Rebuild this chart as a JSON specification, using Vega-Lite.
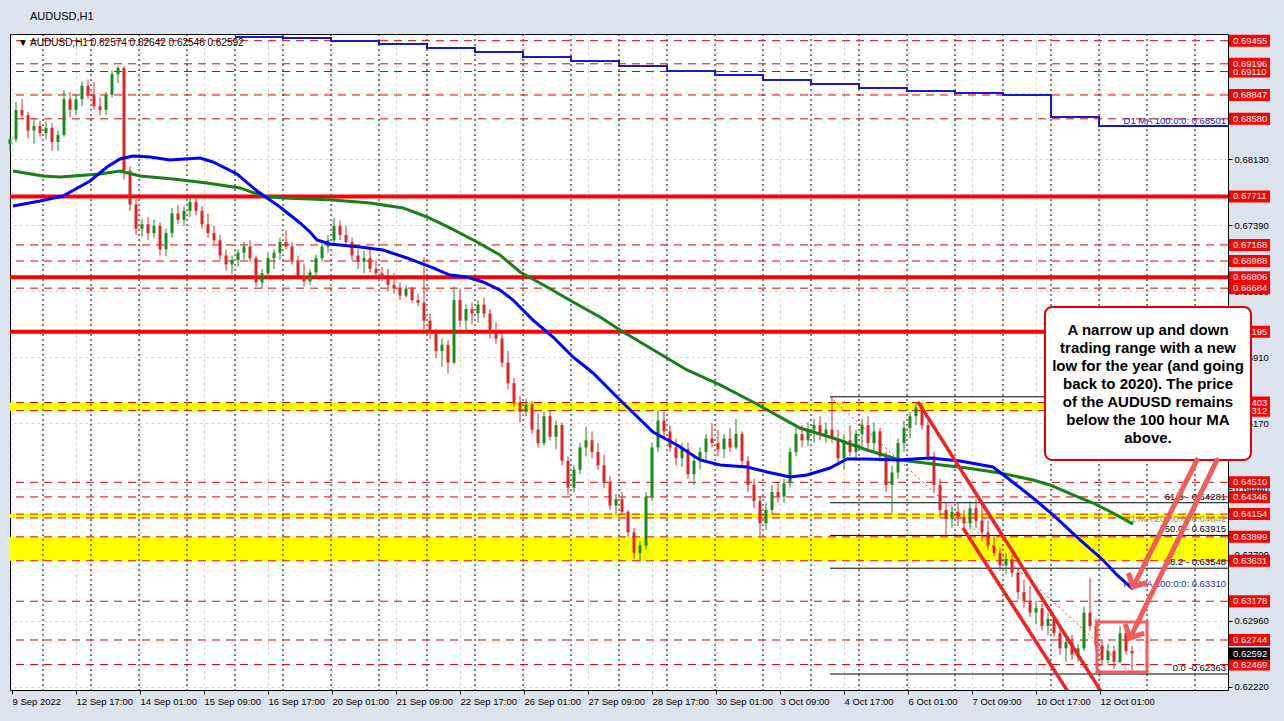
{
"$schema": "https://vega.github.io/schema/vega-lite/v6.json",
"width": 1218, "height": 656,
"autosize": {"type": "none"},
"padding": {"left": 10, "top": 34, "right": 56, "bottom": 31},
"background": "#dde3ec",
"title": {"text": "AUDUSD,H1", "anchor": "start", "frame": "group", "offset": 0, "baseline": "bottom", "dx": 20, "fontSize": 11, "font": "Liberation Sans", "fontWeight": "normal", "color": "#000000"},
"config": {"view": {"stroke": "#000000", "strokeWidth": 1, "fill": "#ffffff"}, "text": {"font": "Liberation Sans"},
 "axis": {"labelFont": "Liberation Sans", "labelFontSize": 9.5, "labelColor": "#000000", "labelPadding": 2, "labelOverlap": false, "labelFlush": false, "tickColor": "#000000", "tickSize": 4, "domain": false, "grid": true, "gridColor": "#d6d6d6", "gridDash": [3, 3]}},
"datasets": {
"bars": [
{"i":0,"o":0.6830,"h":0.6838,"l":0.6822,"c":0.6835},
{"i":3,"o":0.6835,"h":0.6877,"l":0.6832,"c":0.6868},
{"i":6,"o":0.6868,"h":0.6880,"l":0.6858,"c":0.6862},
{"i":9,"o":0.6862,"h":0.6866,"l":0.6836,"c":0.6845},
{"i":12,"o":0.6845,"h":0.6858,"l":0.6830,"c":0.6850},
{"i":15,"o":0.6850,"h":0.6856,"l":0.6838,"c":0.6842},
{"i":18,"o":0.6842,"h":0.6855,"l":0.6835,"c":0.6848},
{"i":21,"o":0.6848,"h":0.6853,"l":0.6822,"c":0.6832},
{"i":24,"o":0.6832,"h":0.6845,"l":0.6822,"c":0.6840},
{"i":27,"o":0.6840,"h":0.6890,"l":0.6838,"c":0.6880},
{"i":30,"o":0.6880,"h":0.6888,"l":0.6860,"c":0.6868},
{"i":33,"o":0.6868,"h":0.6885,"l":0.6862,"c":0.6880},
{"i":36,"o":0.6880,"h":0.6900,"l":0.6872,"c":0.6895},
{"i":39,"o":0.6895,"h":0.6902,"l":0.6880,"c":0.6885},
{"i":42,"o":0.6885,"h":0.6899,"l":0.6868,"c":0.6872},
{"i":45,"o":0.6872,"h":0.6882,"l":0.6862,"c":0.6868},
{"i":48,"o":0.6868,"h":0.6888,"l":0.6862,"c":0.6885},
{"i":51,"o":0.6885,"h":0.6912,"l":0.6882,"c":0.6908},
{"i":54,"o":0.6908,"h":0.6917,"l":0.6898,"c":0.6915},
{"i":57,"o":0.6915,"h":0.6917,"l":0.6790,"c":0.6800},
{"i":60,"o":0.6800,"h":0.6805,"l":0.6755,"c":0.6762},
{"i":63,"o":0.6762,"h":0.6768,"l":0.6728,"c":0.6735},
{"i":66,"o":0.6735,"h":0.6746,"l":0.6726,"c":0.6740},
{"i":69,"o":0.6740,"h":0.6748,"l":0.6722,"c":0.6730},
{"i":72,"o":0.6730,"h":0.6745,"l":0.6725,"c":0.6738},
{"i":75,"o":0.6738,"h":0.6742,"l":0.6705,"c":0.6712},
{"i":78,"o":0.6712,"h":0.6735,"l":0.6704,"c":0.6730},
{"i":81,"o":0.6730,"h":0.6758,"l":0.6725,"c":0.6752},
{"i":84,"o":0.6752,"h":0.6762,"l":0.6740,"c":0.6745},
{"i":87,"o":0.6745,"h":0.6760,"l":0.6738,"c":0.6755},
{"i":90,"o":0.6755,"h":0.6770,"l":0.6748,"c":0.6765},
{"i":93,"o":0.6765,"h":0.6772,"l":0.6750,"c":0.6755},
{"i":96,"o":0.6755,"h":0.6760,"l":0.6735,"c":0.6740},
{"i":99,"o":0.6740,"h":0.6752,"l":0.6725,"c":0.6730},
{"i":102,"o":0.6730,"h":0.6738,"l":0.6718,"c":0.6722},
{"i":105,"o":0.6722,"h":0.6728,"l":0.6700,"c":0.6705},
{"i":108,"o":0.6705,"h":0.6712,"l":0.6688,"c":0.6695},
{"i":111,"o":0.6695,"h":0.6705,"l":0.6684,"c":0.6700},
{"i":114,"o":0.6700,"h":0.6712,"l":0.6692,"c":0.6708},
{"i":117,"o":0.6708,"h":0.6720,"l":0.6700,"c":0.6715},
{"i":120,"o":0.6715,"h":0.6722,"l":0.6698,"c":0.6702},
{"i":123,"o":0.6702,"h":0.6705,"l":0.6670,"c":0.6675},
{"i":126,"o":0.6675,"h":0.6690,"l":0.6668,"c":0.6685},
{"i":129,"o":0.6685,"h":0.6708,"l":0.6680,"c":0.6702},
{"i":132,"o":0.6702,"h":0.6712,"l":0.6690,"c":0.6708},
{"i":135,"o":0.6708,"h":0.6725,"l":0.6700,"c":0.6720},
{"i":138,"o":0.6720,"h":0.6733,"l":0.6712,"c":0.6715},
{"i":141,"o":0.6715,"h":0.6720,"l":0.6695,"c":0.6698},
{"i":144,"o":0.6698,"h":0.6705,"l":0.6678,"c":0.6682},
{"i":147,"o":0.6682,"h":0.6695,"l":0.6670,"c":0.6676},
{"i":150,"o":0.6676,"h":0.6690,"l":0.6672,"c":0.6686},
{"i":153,"o":0.6686,"h":0.6706,"l":0.6682,"c":0.6702},
{"i":156,"o":0.6702,"h":0.6718,"l":0.6698,"c":0.6715},
{"i":159,"o":0.6715,"h":0.6728,"l":0.6708,"c":0.6722},
{"i":162,"o":0.6722,"h":0.6747,"l":0.6718,"c":0.6738},
{"i":165,"o":0.6738,"h":0.6744,"l":0.6722,"c":0.6728},
{"i":168,"o":0.6728,"h":0.6738,"l":0.6716,"c":0.6720},
{"i":171,"o":0.6720,"h":0.6725,"l":0.6700,"c":0.6705},
{"i":174,"o":0.6705,"h":0.6712,"l":0.6690,"c":0.6698},
{"i":177,"o":0.6698,"h":0.6710,"l":0.6685,"c":0.6702},
{"i":180,"o":0.6702,"h":0.6712,"l":0.6686,"c":0.6690},
{"i":183,"o":0.6690,"h":0.6700,"l":0.6680,"c":0.6685},
{"i":186,"o":0.6685,"h":0.6692,"l":0.6676,"c":0.6680},
{"i":189,"o":0.6680,"h":0.6690,"l":0.6665,"c":0.6672},
{"i":192,"o":0.6672,"h":0.6685,"l":0.6662,"c":0.6668},
{"i":195,"o":0.6668,"h":0.6675,"l":0.6655,"c":0.6660},
{"i":198,"o":0.6660,"h":0.6672,"l":0.6658,"c":0.6668},
{"i":201,"o":0.6668,"h":0.6670,"l":0.6652,"c":0.6655},
{"i":204,"o":0.6655,"h":0.6662,"l":0.6648,"c":0.6652},
{"i":207,"o":0.6652,"h":0.6703,"l":0.6622,"c":0.6632},
{"i":210,"o":0.6632,"h":0.6640,"l":0.6612,"c":0.6618},
{"i":213,"o":0.6618,"h":0.6622,"l":0.6590,"c":0.6598},
{"i":216,"o":0.6598,"h":0.6612,"l":0.6580,"c":0.6605},
{"i":219,"o":0.6605,"h":0.6610,"l":0.6573,"c":0.6585},
{"i":222,"o":0.6585,"h":0.6670,"l":0.6583,"c":0.6655},
{"i":225,"o":0.6655,"h":0.6668,"l":0.6625,"c":0.6632},
{"i":228,"o":0.6632,"h":0.6650,"l":0.6618,"c":0.6645},
{"i":231,"o":0.6645,"h":0.6652,"l":0.6628,"c":0.6640},
{"i":234,"o":0.6640,"h":0.6655,"l":0.6630,"c":0.6650},
{"i":237,"o":0.6650,"h":0.6658,"l":0.6635,"c":0.6640},
{"i":240,"o":0.6640,"h":0.6645,"l":0.6612,"c":0.6620},
{"i":243,"o":0.6620,"h":0.6630,"l":0.6606,"c":0.6612},
{"i":246,"o":0.6612,"h":0.6618,"l":0.6580,"c":0.6585},
{"i":249,"o":0.6585,"h":0.6598,"l":0.6555,"c":0.6562},
{"i":252,"o":0.6562,"h":0.6568,"l":0.6535,"c":0.6540},
{"i":255,"o":0.6540,"h":0.6548,"l":0.6518,"c":0.6530},
{"i":258,"o":0.6530,"h":0.6545,"l":0.6525,"c":0.6538},
{"i":261,"o":0.6538,"h":0.6542,"l":0.6505,"c":0.6510},
{"i":264,"o":0.6510,"h":0.6528,"l":0.6490,"c":0.6495},
{"i":267,"o":0.6495,"h":0.6530,"l":0.6492,"c":0.6525},
{"i":270,"o":0.6525,"h":0.6532,"l":0.6498,"c":0.6502},
{"i":273,"o":0.6502,"h":0.6520,"l":0.6488,"c":0.6515},
{"i":276,"o":0.6515,"h":0.6518,"l":0.6470,"c":0.6475},
{"i":279,"o":0.6475,"h":0.6480,"l":0.6437,"c":0.6445},
{"i":282,"o":0.6445,"h":0.6470,"l":0.6440,"c":0.6465},
{"i":285,"o":0.6465,"h":0.6495,"l":0.6460,"c":0.6490},
{"i":288,"o":0.6490,"h":0.6513,"l":0.6480,"c":0.6498},
{"i":291,"o":0.6498,"h":0.6508,"l":0.6478,"c":0.6485},
{"i":294,"o":0.6485,"h":0.6495,"l":0.6465,"c":0.6470},
{"i":297,"o":0.6470,"h":0.6482,"l":0.6445,"c":0.6450},
{"i":300,"o":0.6450,"h":0.6458,"l":0.6420,"c":0.6425},
{"i":303,"o":0.6425,"h":0.6438,"l":0.6415,"c":0.6432},
{"i":306,"o":0.6432,"h":0.6440,"l":0.6415,"c":0.6418},
{"i":309,"o":0.6418,"h":0.6420,"l":0.6390,"c":0.6395},
{"i":312,"o":0.6395,"h":0.6400,"l":0.6365,"c":0.6372},
{"i":315,"o":0.6372,"h":0.6385,"l":0.6362,"c":0.6380},
{"i":318,"o":0.6380,"h":0.6440,"l":0.6375,"c":0.6435},
{"i":321,"o":0.6435,"h":0.6495,"l":0.6430,"c":0.6490},
{"i":324,"o":0.6490,"h":0.6532,"l":0.6485,"c":0.6520},
{"i":327,"o":0.6520,"h":0.6530,"l":0.6500,"c":0.6508},
{"i":330,"o":0.6508,"h":0.6515,"l":0.6485,"c":0.6490},
{"i":333,"o":0.6490,"h":0.6500,"l":0.6470,"c":0.6478},
{"i":336,"o":0.6478,"h":0.6495,"l":0.6468,"c":0.6488},
{"i":339,"o":0.6488,"h":0.6495,"l":0.6455,"c":0.6460},
{"i":342,"o":0.6460,"h":0.6480,"l":0.6448,"c":0.6475},
{"i":345,"o":0.6475,"h":0.6490,"l":0.6465,"c":0.6485},
{"i":348,"o":0.6485,"h":0.6505,"l":0.6475,"c":0.6500},
{"i":351,"o":0.6500,"h":0.6517,"l":0.6490,"c":0.6495},
{"i":354,"o":0.6495,"h":0.6510,"l":0.6480,"c":0.6488},
{"i":357,"o":0.6488,"h":0.6505,"l":0.6478,"c":0.6500},
{"i":360,"o":0.6500,"h":0.6512,"l":0.6485,"c":0.6490},
{"i":363,"o":0.6490,"h":0.6522,"l":0.6488,"c":0.6505},
{"i":366,"o":0.6505,"h":0.6508,"l":0.6470,"c":0.6475},
{"i":369,"o":0.6475,"h":0.6480,"l":0.6440,"c":0.6448},
{"i":372,"o":0.6448,"h":0.6455,"l":0.6422,"c":0.6430},
{"i":375,"o":0.6430,"h":0.6435,"l":0.6391,"c":0.6405},
{"i":378,"o":0.6405,"h":0.6428,"l":0.6398,"c":0.6420},
{"i":381,"o":0.6420,"h":0.6448,"l":0.6415,"c":0.6440},
{"i":384,"o":0.6440,"h":0.6452,"l":0.6428,"c":0.6435},
{"i":387,"o":0.6435,"h":0.6455,"l":0.6428,"c":0.6450},
{"i":390,"o":0.6450,"h":0.6490,"l":0.6445,"c":0.6485},
{"i":393,"o":0.6485,"h":0.6512,"l":0.6480,"c":0.6505},
{"i":396,"o":0.6505,"h":0.6515,"l":0.6490,"c":0.6498},
{"i":399,"o":0.6498,"h":0.6518,"l":0.6492,"c":0.6510},
{"i":402,"o":0.6510,"h":0.6522,"l":0.6495,"c":0.6515},
{"i":405,"o":0.6515,"h":0.6525,"l":0.6498,"c":0.6505},
{"i":408,"o":0.6505,"h":0.6518,"l":0.6495,"c":0.6510},
{"i":411,"o":0.6510,"h":0.6547,"l":0.6495,"c":0.6500},
{"i":414,"o":0.6500,"h":0.6510,"l":0.6470,"c":0.6478},
{"i":417,"o":0.6478,"h":0.6505,"l":0.6465,"c":0.6498},
{"i":420,"o":0.6498,"h":0.6515,"l":0.6480,"c":0.6485},
{"i":423,"o":0.6485,"h":0.6510,"l":0.6475,"c":0.6505},
{"i":426,"o":0.6505,"h":0.6522,"l":0.6490,"c":0.6515},
{"i":429,"o":0.6515,"h":0.6525,"l":0.6488,"c":0.6495},
{"i":432,"o":0.6495,"h":0.6518,"l":0.6485,"c":0.6508},
{"i":435,"o":0.6508,"h":0.6512,"l":0.6475,"c":0.6480},
{"i":438,"o":0.6480,"h":0.6485,"l":0.6440,"c":0.6448},
{"i":441,"o":0.6448,"h":0.6470,"l":0.6416,"c":0.6462},
{"i":444,"o":0.6462,"h":0.6500,"l":0.6455,"c":0.6495},
{"i":447,"o":0.6495,"h":0.6520,"l":0.6485,"c":0.6512},
{"i":450,"o":0.6512,"h":0.6530,"l":0.6500,"c":0.6525},
{"i":453,"o":0.6525,"h":0.6541,"l":0.6515,"c":0.6535},
{"i":456,"o":0.6535,"h":0.6540,"l":0.6510,"c":0.6515},
{"i":459,"o":0.6515,"h":0.6520,"l":0.6475,"c":0.6480},
{"i":462,"o":0.6480,"h":0.6485,"l":0.6440,"c":0.6448},
{"i":465,"o":0.6448,"h":0.6455,"l":0.6412,"c":0.6420},
{"i":468,"o":0.6420,"h":0.6428,"l":0.6392,"c":0.6410},
{"i":471,"o":0.6410,"h":0.6425,"l":0.6400,"c":0.6418},
{"i":474,"o":0.6418,"h":0.6428,"l":0.6402,"c":0.6412},
{"i":477,"o":0.6412,"h":0.6420,"l":0.6398,"c":0.6405},
{"i":480,"o":0.6405,"h":0.6430,"l":0.6398,"c":0.6422},
{"i":483,"o":0.6422,"h":0.6432,"l":0.6400,"c":0.6408},
{"i":486,"o":0.6408,"h":0.6425,"l":0.6385,"c":0.6395},
{"i":489,"o":0.6395,"h":0.6408,"l":0.6375,"c":0.6380},
{"i":492,"o":0.6380,"h":0.6392,"l":0.6368,"c":0.6372},
{"i":495,"o":0.6372,"h":0.6378,"l":0.6352,"c":0.6358},
{"i":498,"o":0.6358,"h":0.6372,"l":0.6348,"c":0.6365},
{"i":501,"o":0.6365,"h":0.6370,"l":0.6345,"c":0.6350},
{"i":504,"o":0.6350,"h":0.6355,"l":0.6320,"c":0.6328},
{"i":507,"o":0.6328,"h":0.6342,"l":0.6310,"c":0.6318},
{"i":510,"o":0.6318,"h":0.6335,"l":0.6300,"c":0.6305},
{"i":513,"o":0.6305,"h":0.6318,"l":0.6292,"c":0.6310},
{"i":516,"o":0.6310,"h":0.6315,"l":0.6285,"c":0.6290},
{"i":519,"o":0.6290,"h":0.6305,"l":0.6280,"c":0.6298},
{"i":522,"o":0.6298,"h":0.6302,"l":0.6278,"c":0.6282},
{"i":525,"o":0.6282,"h":0.6288,"l":0.6258,"c":0.6265},
{"i":528,"o":0.6265,"h":0.6278,"l":0.6250,"c":0.6272},
{"i":531,"o":0.6272,"h":0.6280,"l":0.6252,"c":0.6258},
{"i":534,"o":0.6258,"h":0.6270,"l":0.6250,"c":0.6265},
{"i":537,"o":0.6265,"h":0.6312,"l":0.6262,"c":0.6305},
{"i":540,"o":0.6305,"h":0.6344,"l":0.6285,"c":0.6290},
{"i":543,"o":0.6290,"h":0.6298,"l":0.6262,"c":0.6268},
{"i":546,"o":0.6268,"h":0.6275,"l":0.6245,"c":0.6252},
{"i":549,"o":0.6252,"h":0.6270,"l":0.6248,"c":0.6262},
{"i":552,"o":0.6262,"h":0.6268,"l":0.6242,"c":0.6250},
{"i":555,"o":0.6250,"h":0.6290,"l":0.6248,"c":0.6282},
{"i":558,"o":0.6282,"h":0.6285,"l":0.6258,"c":0.6262},
{"i":561,"o":0.6262,"h":0.6268,"l":0.62363,"c":0.62592}
],
"ma100": [
{"h":1.5,"p":0.67604},{"h":15,"p":0.6766},{"h":26.5,"p":0.67716},{"h":40,"p":0.67884},{"h":48.5,"p":0.68041},{"h":55,"p":0.6813},{"h":61.5,"p":0.68164},{"h":70,"p":0.68153},{"h":80,"p":0.68119},{"h":95,"p":0.68141},{"h":101.5,"p":0.68097},{"h":113.5,"p":0.67962},{"h":123.5,"p":0.67772},{"h":135,"p":0.67593},{"h":145,"p":0.67414},{"h":150,"p":0.67313},{"h":153.5,"p":0.67223},{"h":160,"p":0.67178},{"h":175,"p":0.67145},{"h":186.5,"p":0.67111},{"h":198.5,"p":0.67022},{"h":211.5,"p":0.6691},{"h":220,"p":0.66831},{"h":228.5,"p":0.66809},{"h":236.5,"p":0.66753},{"h":245,"p":0.66663},{"h":251.5,"p":0.66551},{"h":261.5,"p":0.66327},{"h":271.5,"p":0.66137},{"h":281.5,"p":0.65913},{"h":291.5,"p":0.65734},{"h":305,"p":0.65432},{"h":321.5,"p":0.65073},{"h":333.5,"p":0.64928},{"h":345,"p":0.6476},{"h":355,"p":0.64704},{"h":368.5,"p":0.64681},{"h":378.5,"p":0.64625},{"h":390,"p":0.64569},{"h":398.5,"p":0.64592},{"h":410,"p":0.6467},{"h":418.5,"p":0.64771},{"h":428.5,"p":0.64771},{"h":443.5,"p":0.6476},{"h":460,"p":0.64782},{"h":475,"p":0.64748},{"h":491.5,"p":0.64681},{"h":500,"p":0.64536},{"h":511.5,"p":0.64334},{"h":521.5,"p":0.64144},{"h":535,"p":0.63864},{"h":546.5,"p":0.6364},{"h":553.5,"p":0.63472},{"h":561.5,"p":0.6331}
],
"ma200": [
{"h":1.5,"p":0.67996},{"h":16.5,"p":0.6794},{"h":25,"p":0.67928},{"h":45,"p":0.67962},{"h":55,"p":0.67996},{"h":65,"p":0.6794},{"h":81.5,"p":0.67906},{"h":98.5,"p":0.67862},{"h":115,"p":0.67806},{"h":126.5,"p":0.67716},{"h":136.5,"p":0.67694},{"h":150,"p":0.67682},{"h":161.5,"p":0.67671},{"h":180,"p":0.67638},{"h":196.5,"p":0.67582},{"h":208.5,"p":0.67481},{"h":220,"p":0.67358},{"h":233.5,"p":0.67201},{"h":245,"p":0.67055},{"h":255,"p":0.66865},{"h":268.5,"p":0.66697},{"h":281.5,"p":0.66529},{"h":295,"p":0.66361},{"h":305,"p":0.66215},{"h":338.5,"p":0.65768},{"h":355,"p":0.656},{"h":371.5,"p":0.65409},{"h":395,"p":0.65118},{"h":411.5,"p":0.65006},{"h":428.5,"p":0.64872},{"h":445,"p":0.6476},{"h":461.5,"p":0.64715},{"h":478.5,"p":0.6467},{"h":495,"p":0.64614},{"h":511.5,"p":0.64536},{"h":520,"p":0.6448},{"h":531.5,"p":0.64368},{"h":541.5,"p":0.64278},{"h":551.5,"p":0.64166},{"h":561.5,"p":0.64042}
],
"d1": [
{"h":112.5,"p":0.69496},{"h":136.5,"p":0.69485},{"h":160.5,"p":0.69452},{"h":184.5,"p":0.69418},{"h":208.5,"p":0.69373},{"h":232.5,"p":0.69328},{"h":256.5,"p":0.69272},{"h":280.5,"p":0.69228},{"h":304.5,"p":0.69172},{"h":328.5,"p":0.69116},{"h":352.5,"p":0.69071},{"h":376.5,"p":0.69015},{"h":400.5,"p":0.6897},{"h":424.5,"p":0.68925},{"h":448.5,"p":0.68892},{"h":472.5,"p":0.68869},{"h":496.5,"p":0.68847},{"h":520.5,"p":0.68601},{"h":544.5,"p":0.68501},{"h":609,"p":0.68501}
],
"zones": [{"lo":0.65312,"hi":0.65403},{"lo":0.6411,"hi":0.64154},{"lo":0.63631,"hi":0.63899}],
"seps": [{"h":16.5},{"h":40.5},{"h":64.5},{"h":88.5},{"h":112.5},{"h":136.5},{"h":160.5},{"h":184.5},{"h":208.5},{"h":232.5},{"h":256.5},{"h":280.5},{"h":304.5},{"h":328.5},{"h":352.5},{"h":376.5},{"h":400.5},{"h":424.5},{"h":448.5},{"h":472.5},{"h":496.5},{"h":520.5},{"h":544.5},{"h":568.5},{"h":592.5}],
"dashed": [{"p":0.69455},{"p":0.69196},{"p":0.6911},{"p":0.68847},{"p":0.6858},{"p":0.67168},{"p":0.66988},{"p":0.66684},{"p":0.65403},{"p":0.65312},{"p":0.6451},{"p":0.64346},{"p":0.64154},{"p":0.6411},{"p":0.63899},{"p":0.63631},{"p":0.63178},{"p":0.62744},{"p":0.62469}],
"solid": [{"p":0.67711},{"p":0.66806},{"p":0.66195}],
"boxes": [{"p":0.69455},{"p":0.6911},{"p":0.69196},{"p":0.68847},{"p":0.6858},{"p":0.67711},{"p":0.67168},{"p":0.66988},{"p":0.66806},{"p":0.66684},{"p":0.66195},{"p":0.65403},{"p":0.65312},{"p":0.6451},{"p":0.64346},{"p":0.64154},{"p":0.63899},{"p":0.63631},{"p":0.63178},{"p":0.62744},{"p":0.62469}],
"fib": [{"p":0.65467,"label":"100.0 - 0.65467"},{"p":0.64281,"label":"61.8 - 0.64281"},{"p":0.63915,"label":"50.0 - 0.63915"},{"p":0.63548,"label":"38.2 - 0.63548"},{"p":0.62363,"label":"0.0 -0.62363"}]
},
"layer": [
{"data": {"name": "zones"}, "mark": {"type": "rect", "color": "#ffff00"},
 "encoding": {
  "x": {"datum": 0, "type": "quantitative", "title": null, "scale": {"domain": [0, 609], "nice": false, "zero": false},
   "axis": {"title": null, "values": [1,33,65,97,129,161,193,225,257,289,321,353,385,417,449,481,513,545],
    "labelExpr": "datum.value < 10 ? '9 Sep 2022' : ['12 Sep 17:00','14 Sep 01:00','15 Sep 09:00','16 Sep 17:00','20 Sep 01:00','21 Sep 09:00','22 Sep 17:00','26 Sep 01:00','27 Sep 09:00','28 Sep 17:00','30 Sep 01:00','3 Oct 09:00','4 Oct 17:00','6 Oct 01:00','7 Oct 09:00','10 Oct 17:00','12 Oct 01:00'][(datum.value-33)/32]",
    "labelAlign": "left"}},
  "x2": {"datum": 609},
  "y": {"field": "lo", "type": "quantitative", "title": null, "scale": {"domain": [0.62184, 0.6953], "nice": false, "zero": false},
   "axis": {"title": null, "orient": "right", "values": [0.6222,0.6259,0.6296,0.6333,0.637,0.6407,0.6444,0.648,0.6517,0.6554,0.6591,0.6628,0.6665,0.6702,0.6739,0.6776,0.6813,0.685,0.6887,0.6924], "format": ".5f"}},
  "y2": {"field": "hi"}}},
{"data": {"name": "seps"}, "mark": {"type": "rule", "color": "#000000", "strokeWidth": 1, "strokeDash": [2, 3]},
 "encoding": {"x": {"field": "h", "type": "quantitative", "title": null}}},
{"data": {"name": "dashed"}, "mark": {"type": "rule", "color": "#dd0000", "strokeWidth": 1, "strokeDash": [8, 6]},
 "encoding": {"y": {"field": "p", "type": "quantitative", "title": null}}},
{"data": {"name": "solid"}, "mark": {"type": "rule", "color": "#ff0000", "strokeWidth": 4},
 "encoding": {"y": {"field": "p", "type": "quantitative", "title": null}}},
{"data": {"name": "fib"}, "mark": {"type": "rule", "color": "#000000", "strokeWidth": 1},
 "encoding": {"x": {"datum": 410, "type": "quantitative", "title": null}, "x2": {"datum": 609}, "y": {"field": "p", "type": "quantitative", "title": null}}},
{"data": {"name": "fib"}, "mark": {"type": "text", "align": "right", "baseline": "bottom", "dy": -1, "fontSize": 9.5, "color": "#000000"},
 "encoding": {"x": {"datum": 608, "type": "quantitative", "title": null}, "y": {"field": "p", "type": "quantitative", "title": null}, "text": {"field": "label"}}},
{"data": {"name": "d1"}, "mark": {"type": "line", "color": "#1a1acc", "strokeWidth": 2, "interpolate": "step-after"},
 "encoding": {"x": {"field": "h", "type": "quantitative", "title": null}, "y": {"field": "p", "type": "quantitative", "title": null}}},
{"data": {"name": "bars"}, "mark": {"type": "rule", "strokeWidth": 1},
 "encoding": {"x": {"field": "i", "type": "quantitative", "title": null}, "y": {"field": "l", "type": "quantitative", "title": null}, "y2": {"field": "h"},
  "color": {"condition": {"test": "datum.c >= datum.o", "value": "#1b8a1b"}, "value": "#e02424"}}},
{"data": {"name": "bars"}, "mark": {"type": "rule", "strokeWidth": 3},
 "encoding": {"x": {"field": "i", "type": "quantitative", "title": null}, "y": {"field": "o", "type": "quantitative", "title": null}, "y2": {"field": "c"},
  "color": {"condition": {"test": "datum.c >= datum.o", "value": "#1b8a1b"}, "value": "#e02424"}}},
{"data": {"name": "ma200"}, "mark": {"type": "line", "color": "#1a7f1a", "strokeWidth": 3},
 "encoding": {"x": {"field": "h", "type": "quantitative", "title": null}, "y": {"field": "p", "type": "quantitative", "title": null}}},
{"data": {"name": "ma100"}, "mark": {"type": "line", "color": "#0000ff", "strokeWidth": 3},
 "encoding": {"x": {"field": "h", "type": "quantitative", "title": null}, "y": {"field": "p", "type": "quantitative", "title": null}}},
{"data": {"values": [{}]}, "mark": {"type": "rule", "color": "#ee2222", "strokeWidth": 1, "strokeDash": [2, 3], "clip": true},
 "encoding": {"x": {"datum": 410, "type": "quantitative", "title": null}, "y": {"datum": 0.65467, "type": "quantitative", "title": null}, "x2": {"datum": 561}, "y2": {"datum": 0.62363}}},
{"data": {"values": [{}]}, "mark": {"type": "rule", "color": "#ee2222", "strokeWidth": 3.5, "clip": true},
 "encoding": {"x": {"datum": 454, "type": "quantitative", "title": null}, "y": {"datum": 0.6541, "type": "quantitative", "title": null}, "x2": {"datum": 548}, "y2": {"datum": 0.6208}}},
{"data": {"values": [{}]}, "mark": {"type": "rule", "color": "#ee2222", "strokeWidth": 3.5, "clip": true},
 "encoding": {"x": {"datum": 476.5, "type": "quantitative", "title": null}, "y": {"datum": 0.64, "type": "quantitative", "title": null}, "x2": {"datum": 530}, "y2": {"datum": 0.6213}}},
{"data": {"values": [{}]}, "mark": {"type": "text", "text": "D1 MA 100:0:0: 0.68501", "align": "right", "baseline": "bottom", "fontSize": 9.5, "color": "#2020c0"},
 "encoding": {"x": {"datum": 608, "type": "quantitative", "title": null}, "y": {"datum": 0.68501, "type": "quantitative", "title": null}}},
{"data": {"values": [{}]}, "mark": {"type": "text", "text": "H1 MA 100:0:0: 0.63310", "align": "right", "baseline": "bottom", "fontSize": 9.5, "color": "#2020d0"},
 "encoding": {"x": {"datum": 608, "type": "quantitative", "title": null}, "y": {"datum": 0.6331, "type": "quantitative", "title": null}}},
{"data": {"values": [{}]}, "mark": {"type": "text", "text": "H1 MA 200:0:0: 0.64042", "align": "right", "baseline": "bottom", "fontSize": 9.5, "color": "#9a9a00"},
 "encoding": {"x": {"datum": 608, "type": "quantitative", "title": null}, "y": {"datum": 0.64042, "type": "quantitative", "title": null}}},
{"data": {"name": "boxes"}, "mark": {"type": "tick", "orient": "horizontal", "color": "#ff0000", "size": 41, "thickness": 12, "opacity": 1},
 "encoding": {"x": {"datum": 619.75, "type": "quantitative", "title": null}, "y": {"field": "p", "type": "quantitative", "title": null}}},
{"data": {"name": "boxes"}, "mark": {"type": "text", "align": "left", "baseline": "middle", "fontSize": 9.5, "color": "#ffffff"},
 "encoding": {"x": {"datum": 611.5, "type": "quantitative", "title": null}, "y": {"field": "p", "type": "quantitative", "title": null}, "text": {"field": "p", "type": "quantitative", "format": ".5f"}}},
{"data": {"values": [{}]}, "mark": {"type": "tick", "orient": "horizontal", "color": "#000000", "size": 41, "thickness": 12, "opacity": 1},
 "encoding": {"x": {"datum": 619.75, "type": "quantitative", "title": null}, "y": {"datum": 0.62592, "type": "quantitative", "title": null}}},
{"data": {"values": [{}]}, "mark": {"type": "text", "text": "0.62592", "align": "left", "baseline": "middle", "fontSize": 9.5, "color": "#ffffff"},
 "encoding": {"x": {"datum": 611.5, "type": "quantitative", "title": null}, "y": {"datum": 0.62592, "type": "quantitative", "title": null}}},
{"data": {"values": [{}]}, "mark": {"type": "rect", "fillOpacity": 0, "stroke": "#f25c5c", "strokeWidth": 3},
 "encoding": {"x": {"datum": 543.5, "type": "quantitative", "title": null}, "x2": {"datum": 568.5}, "y": {"datum": 0.62945, "type": "quantitative", "title": null}, "y2": {"datum": 0.62386}}},
{"data": {"values": [{}]}, "mark": {"type": "rect", "fill": "#ffffff", "stroke": "#e00000", "strokeWidth": 2, "cornerRadius": 7},
 "encoding": {"x": {"datum": 517.5, "type": "quantitative", "title": null}, "x2": {"datum": 620.5}, "y": {"datum": 0.66473, "type": "quantitative", "title": null}, "y2": {"datum": 0.6476}}},
{"data": {"values": [{}]}, "mark": {"type": "text", "text": ["A narrow up and down", "trading range with a new", "low for the year (and going", "back to 2020).  The price", "of the AUDUSD remains", "below the 100 hour MA", "above."], "align": "center", "baseline": "top", "lineHeight": 18, "fontSize": 15, "fontWeight": "bold", "font": "Liberation Sans", "color": "#000000"},
 "encoding": {"x": {"datum": 569, "type": "quantitative", "title": null}, "y": {"datum": 0.66294, "type": "quantitative", "title": null}}},
{"data": {"values": [{}]}, "mark": {"type": "rule", "color": "#f25c5c", "strokeWidth": 5, "strokeCap": "round"},
 "encoding": {"x": {"datum": 593.5, "type": "quantitative", "title": null}, "y": {"datum": 0.6476, "type": "quantitative", "title": null}, "x2": {"datum": 561.5}, "y2": {"datum": 0.63338}}},
{"data": {"values": [{}]}, "mark": {"type": "rule", "color": "#f25c5c", "strokeWidth": 5, "strokeCap": "round"},
 "encoding": {"x": {"datum": 603.5, "type": "quantitative", "title": null}, "y": {"datum": 0.6476, "type": "quantitative", "title": null}, "x2": {"datum": 560}, "y2": {"datum": 0.62766}}},
{"data": {"values": [{}]}, "mark": {"type": "point", "shape": "M -0.7 0.7 L 0 0 L 0.7 0.7", "filled": false, "color": "#f25c5c", "strokeWidth": 5, "size": 900, "angle": 206.7, "opacity": 1},
 "encoding": {"x": {"datum": 561.5, "type": "quantitative", "title": null}, "y": {"datum": 0.63338, "type": "quantitative", "title": null}}},
{"data": {"values": [{}]}, "mark": {"type": "point", "shape": "M -0.7 0.7 L 0 0 L 0.7 0.7", "filled": false, "color": "#f25c5c", "strokeWidth": 5, "size": 900, "angle": 206, "opacity": 1},
 "encoding": {"x": {"datum": 560, "type": "quantitative", "title": null}, "y": {"datum": 0.62766, "type": "quantitative", "title": null}}},
{"data": {"values": [{}]}, "mark": {"type": "text", "text": "▼ AUDUSD,H1  0.62574 0.62642 0.62546 0.62592", "align": "left", "baseline": "middle", "fontSize": 10, "color": "#000000"},
 "encoding": {"x": {"datum": 4, "type": "quantitative", "title": null}, "y": {"datum": 0.69429, "type": "quantitative", "title": null}}}
]
}
